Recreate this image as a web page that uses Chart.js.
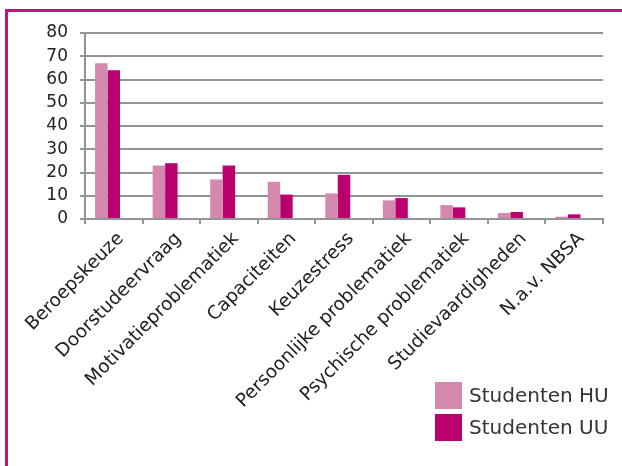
<!DOCTYPE html>
<html>
<head>
<meta charset="utf-8">
<script src="https://cdn.jsdelivr.net/npm/chart.js@4"></script>
<style>
    body { margin: 0; background: #fff; font-family: "DejaVu Sans", sans-serif; }
    #wrap { position: relative; width: 622px; height: 466px; overflow: hidden; }
    #frame { position: absolute; left: 5px; top: 9px; right: 0; bottom: -5px;
        border-top: 3px solid #C0147C; border-left: 3px solid #C0147C; }
    canvas { position: absolute; left: 0; top: 0; }
    .leg { position: absolute; left: 435px; font-size: 20px; color: #333; line-height: 27px; }
    .leg span { display: inline-block; width: 27px; height: 27px; vertical-align: top; margin-right: 7px; }
</style>
</head>
<body>
<div id="wrap">
    <div id="frame"></div>
    <canvas id="myChart" width="622" height="466"></canvas>
    <div class="leg" style="top:382px"><span style="background:#D488AD"></span>Studenten HU</div>
    <div class="leg" style="top:414px"><span style="background:#B9006E"></span>Studenten UU</div>
</div>
<script>
const categories = ['Beroepskeuze', 'Doorstudeervraag', 'Motivatieproblematiek', 'Capaciteiten', 'Keuzestress',
    'Persoonlijke problematiek', 'Psychische problematiek', 'Studievaardigheden', 'N.a.v. NBSA'];
const studentenHU = [67, 23, 17, 16, 11, 8, 6, 2.6, 1];
const studentenUU = [64, 24, 23, 10.5, 19, 9, 5, 3, 2];
const yTicks = [0, 10, 20, 30, 40, 50, 60, 70, 80];

const gridColor = '#929497';

new Chart(document.getElementById('myChart'), {
    type: 'bar',
    data: {
        labels: categories,
        datasets: [{
            label: 'Studenten HU',
            data: studentenHU,
            backgroundColor: '#D488AD'
        }, {
            label: 'Studenten UU',
            data: studentenUU,
            backgroundColor: '#B9006E'
        }, {
            // empty slot, the original leaves room to the right of each pair
            label: '',
            data: categories.map(() => null)
        }]
    },
    options: {
        responsive: false,
        animation: false,
        layout: { padding: { top: 33, right: 19, left: 0, bottom: 0 } },
        plugins: {
            legend: { display: false },
            tooltip: { enabled: false }
        },
        datasets: { bar: { barPercentage: 1, categoryPercentage: 0.65 } },
        scales: {
            x: {
                grid: { drawOnChartArea: false, color: gridColor, lineWidth: 2, tickLength: 5 },
                border: { color: gridColor, width: 2 },
                ticks: {
                    minRotation: 45, maxRotation: 45, autoSkip: false, labelOffset: 7,
                    color: '#222', font: { family: 'DejaVu Sans', size: 18.5 }, padding: 4
                },
                afterFit: scale => { scale.height = 247; }
            },
            y: {
                min: 0, max: 80,
                afterBuildTicks: scale => { scale.ticks = yTicks.map(v => ({ value: v })); },
                grid: { color: gridColor, lineWidth: 2, tickLength: 5 },
                border: { color: gridColor, width: 2 },
                ticks: { autoSkip: false, color: '#222', font: { family: 'DejaVu Sans', size: 17 }, padding: 12 },
                afterFit: scale => { scale.width = 85; }
            }
        }
    }
});
</script>
</body>
</html>
